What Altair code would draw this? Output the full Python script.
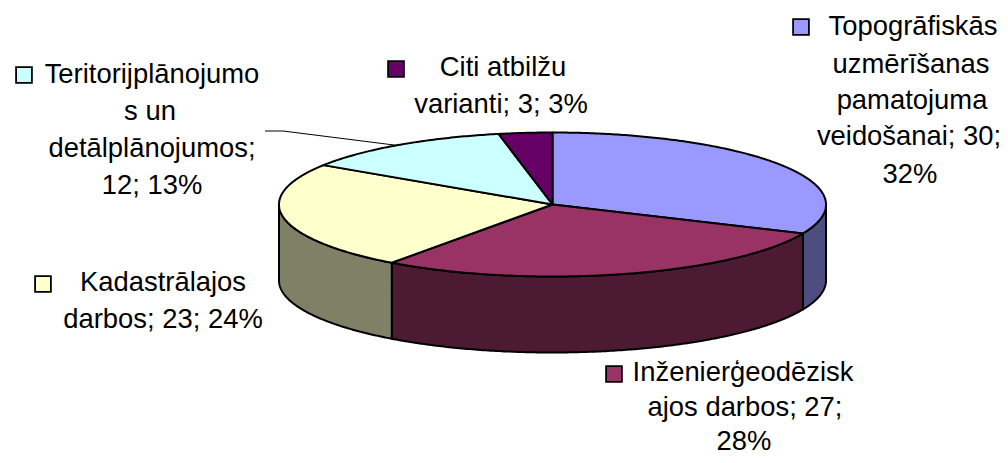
import math
import altair as alt

categories = ["Topogrāfiskās", "Inženierģeodēziskajos", "Kadastrālajos", "Teritorijplānojumos", "Citi"]
values = [30, 27, 23, 12, 3]
top_colors = ["#9999FF", "#993366", "#FFFFCC", "#CCFFFF", "#660066"]
side_colors = ["#4D4D80", "#4D1A33", "#808066", "#668080", "#330033"]
label_lines = [
    ["Topogrāfiskās", "uzmērīšanas", "pamatojuma", "veidošanai; 30;", "32%"],
    ["Inženierģeodēzisk", "ajos darbos; 27;", "28%"],
    ["Kadastrālajos", "darbos; 23; 24%"],
    ["Teritorijplānojumo", "s un", "detālplānojumos;", "12; 13%"],
    ["Citi atbilžu", "varianti; 3; 3%"],
]

# layout (page pixels)
PAGE = 8
CX, CY, RX = 552.5, 204.5, 273.5
TILT = 72.0 / RX
DEPTH = 76.0 / RX
FONT = 27.4
label_layout = [
    dict(xs=[913, 911, 912, 909, 910], ys=[35, 72.5, 108.5, 145, 182.5], key=(801, 27)),
    dict(xs=[743, 745, 744], ys=[381, 416, 449.5], key=(614, 374)),
    dict(xs=[163, 163], ys=[291, 328], key=(43, 284)),
    dict(xs=[152, 150, 152, 152], ys=[83, 120, 157, 194], key=(24, 75)),
    dict(xs=[503, 501], ys=[75.5, 113], key=(396, 69)),
]
leader = [(265, 131), (283, 131), (398, 145.5)]


def pt(a, down=0.0):
    return [math.sin(a), -math.cos(a) * TILT + down]


def arc(a0, a1, down=0.0):
    n = max(2, int(abs(a1 - a0) / 0.01))
    return [pt(a0 + (a1 - a0) * i / n, down) for i in range(n + 1)]


total = sum(values)
tops, sides = [], []
cum = 0
for name, v in zip(categories, values):
    a0 = 2 * math.pi * cum / total
    cum += v
    a1 = 2 * math.pi * cum / total
    ring = [[0.0, 0.0]] + arc(a0, a1) + [[0.0, 0.0]]
    tops.append({"type": "Feature", "properties": {"name": name},
                 "geometry": {"type": "Polygon", "coordinates": [ring]}})
    lo, hi = max(a0, math.pi / 2), min(a1, 3 * math.pi / 2)
    if lo < hi:
        wall = arc(lo, hi) + arc(hi, lo, DEPTH)
        wall.append(wall[0])
        sides.append({"type": "Feature", "properties": {"name": name},
                      "geometry": {"type": "Polygon", "coordinates": [wall]}})


def geo(features, colors):
    return alt.Chart(alt.Data(values=features)).mark_geoshape(
        stroke="black", strokeWidth=2, strokeJoin="round"
    ).encode(
        fill=alt.Fill("properties.name:N", legend=None,
                      scale=alt.Scale(domain=categories, range=colors))
    ).project(type="identity", scale=RX, translate=[CX - PAGE, CY - PAGE])


layers = [geo(sides, side_colors), geo(tops, top_colors)]

for (x0, y0), (x1, y1) in zip(leader[:-1], leader[1:]):
    layers.append(alt.Chart(alt.Data(values=[{"a": 1}])).mark_rule(color="black", strokeWidth=1).encode(
        x=alt.value(x0 - PAGE), x2=alt.value(x1 - PAGE),
        y=alt.value(y0 - PAGE), y2=alt.value(y1 - PAGE)))

for name, color, lines, lay in zip(categories, top_colors, label_lines, label_layout):
    for i, line in enumerate(lines):
        layers.append(alt.Chart(alt.Data(values=[{"t": line}])).mark_text(
            font="Liberation Sans", fontSize=FONT, color="black",
            align="center", baseline="alphabetic"
        ).encode(text="t:N", x=alt.value(lay["xs"][i] - PAGE),
                 y=alt.value(lay["ys"][i] - PAGE)))
    layers.append(alt.Chart(alt.Data(values=[{"name": name}])).mark_point(
        shape="square", filled=True, size=250, fill=color, stroke="black",
        strokeWidth=1.8, opacity=1
    ).encode(x=alt.value(lay["key"][0] - PAGE), y=alt.value(lay["key"][1] - PAGE)))

chart = alt.layer(*layers).resolve_scale(fill="independent").properties(
    width=992, height=447, padding=0, background="white",
    autosize=alt.AutoSizeParams(type="none")
).configure_view(strokeWidth=0, clip=False)

chart.save("out.html", embed_options={"renderer": "svg", "actions": False})
